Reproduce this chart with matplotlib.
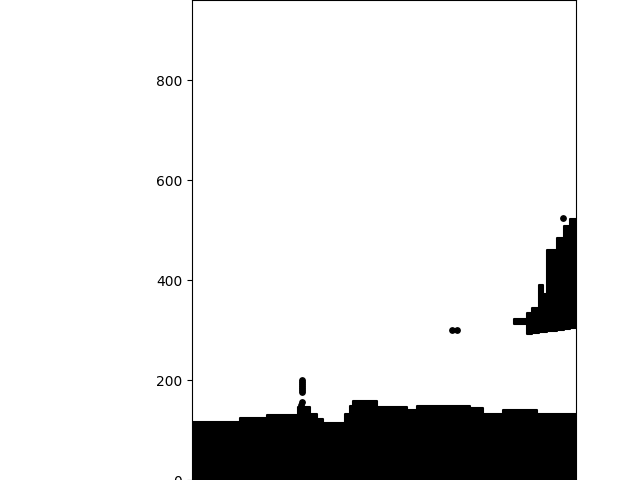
import matplotlib
matplotlib.use("Agg")
import matplotlib.pyplot as plt

# ground mass: column edges and top heights
ground_edges = [0, 96, 150, 212, 236, 250, 262, 306, 316, 322, 370, 430, 450, 556, 582, 622, 690, 770]
ground_top = [116, 124, 130, 146, 132, 122, 114, 132, 148, 158, 146, 140, 148, 144, 132, 140, 132]

# right cluster: column edges, tops and bottoms
cluster_edges = [644, 670, 680, 694, 702, 710, 730, 744, 756, 770]
cluster_top = [322, 334, 344, 390, 372, 460, 484, 508, 522]
cluster_bottom = [312, 292, 294, 296, 297, 298, 300, 302, 304]

# loose points
spike_x = [220, 220, 220, 220, 220, 220, 220, 220, 218]
spike_y = [200, 196, 192, 188, 184, 180, 176, 156, 150]
stray_x = [520, 530, 742]
stray_y = [300, 300, 524]

fig = plt.figure(figsize=(6.4, 4.8), dpi=100)
ax = fig.add_axes([0.3, 0.0, 0.6, 1.0])

ax.fill_between(ground_edges, 0, ground_top + [ground_top[-1]], step="post",
                color="k", lw=1.5, joinstyle="round")
ax.fill_between(cluster_edges, cluster_bottom + [cluster_bottom[-1]], cluster_top + [cluster_top[-1]],
                step="post", color="k", lw=1.5, joinstyle="round")
ax.scatter(spike_x, spike_y, s=15, c="k")
ax.scatter(stray_x, stray_y, s=15, c="k")

ax.set_xlim(0, 768)
ax.set_ylim(0, 960)
ax.set_yticks([0, 200, 400, 600, 800])
ax.set_xticks([])

fig.savefig("out.png")
